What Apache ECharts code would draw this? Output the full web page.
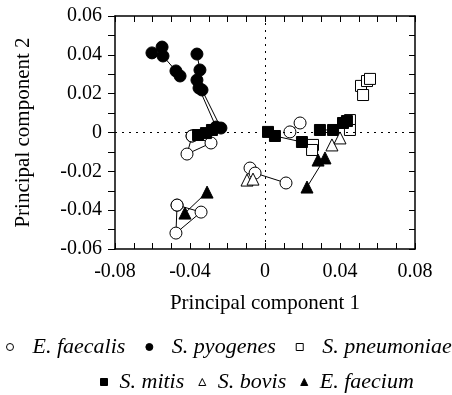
<!DOCTYPE html>
<html>
<head>
<meta charset="utf-8">
<script src="https://cdn.jsdelivr.net/npm/echarts@6/dist/echarts.min.js"></script>
<style>html,body{margin:0;padding:0;background:#fff}#c{width:452px;height:395px}</style>
</head>
<body>
<div id="c"></div>
<script>
// Species names
const speciesRow1 = ['E. faecalis', 'S. pyogenes', 'S. pneumoniae'];
const speciesRow2 = ['S. mitis', 'S. bovis', 'E. faecium'];

// Data: groups of connected points [PC1, PC2]
const eFaecalis = [
  [[-0.0389,-0.0018],[-0.0288,-0.0054],[-0.0416,-0.0111],[-0.0389,-0.0018]],
  [[-0.0469,-0.0374],[-0.0475,-0.0518],[-0.0341,-0.0410],[-0.0469,-0.0374]],
  [[-0.0080,-0.0183],[-0.0053,-0.0209],[0.0112,-0.0260]],
  [[0.0133,0.0003],[0.0187,0.0049]]
];
const sPyogenes = [
  [[-0.0603,0.0410],[-0.0549,0.0440],[-0.0544,0.0394],[-0.0475,0.0317],[-0.0453,0.0291]],
  [[-0.0363,0.0404],[-0.0347,0.0322],[-0.0363,0.0270],[-0.0352,0.0229],[-0.0261,0.0028],[-0.0235,0.0023],[-0.0336,0.0219]]
];
const sPneumoniae = [
  [[0.0512,0.0240],[0.0523,0.0193],[0.0544,0.0265],[0.0560,0.0276]],
  [[0.0453,0.0064],[0.0453,0.0013]],
  [[0.0256,-0.0064],[0.0251,-0.0090]]
];
const sMitis = [
  [[-0.0357,-0.0013],[-0.0315,-0.0003],[-0.0283,0.0013]],
  [[0.0016,0.0003],[0.0053,-0.0018],[0.0197,-0.0049]],
  [[0.0293,0.0013],[0.0363,0.0013],[0.0416,0.0049],[0.0437,0.0059]]
];
const sBovis = [
  [[-0.0096,-0.0245],[-0.0064,-0.0240]],
  [[0.0357,-0.0064],[0.0400,-0.0028]]
];
const eFaecium = [
  [[-0.0427,-0.0415],[-0.0309,-0.0307]],
  [[0.0283,-0.0142],[0.0320,-0.0131],[0.0224,-0.0281]]
];

const FONT = 'Liberation Serif';
const speciesDefs = [
  {name:'E. faecalis', groups:eFaecalis, symbol:'circle', fill:'#fff', size:12},
  {name:'S. pyogenes', groups:sPyogenes, symbol:'circle', fill:'#000', size:12},
  {name:'S. pneumoniae', groups:sPneumoniae, symbol:'rect', fill:'#fff', size:11},
  {name:'S. mitis', groups:sMitis, symbol:'rect', fill:'#000', size:11},
  {name:'S. bovis', groups:sBovis, symbol:'triangle', fill:'#fff', size:12},
  {name:'E. faecium', groups:eFaecium, symbol:'triangle', fill:'#000', size:12}
];

const series = [];
// connecting lines
speciesDefs.forEach(s => {
  s.groups.forEach(g => {
    series.push({
      type:'line', data:g, symbol:'none', silent:true, z:1,
      lineStyle:{color:'#000', width:1}, animation:false
    });
  });
});
// reference dotted lines at zero
series.push({
  type:'line', data:[], silent:true, animation:false,
  markLine:{silent:true, symbol:'none', label:{show:false},
    lineStyle:{color:'#000', type:[2,5], width:1},
    data:[{xAxis:0},{yAxis:0}]}
});
// markers
speciesDefs.forEach(s => {
  series.push({
    type:'scatter', name:s.name, symbol:s.symbol, symbolSize:s.size, z:3,
    data:[].concat(...s.groups), animation:false,
    itemStyle:{color:s.fill, borderColor:'#000', borderWidth:1, opacity:1}
  });
});

function legendData(names){
  return names.map(n => {
    const d = speciesDefs.find(s => s.name === n);
    return {name:n, icon:d.symbol, itemStyle:{color:d.fill, borderColor:'#000', borderWidth:1}};
  });
}
function legendRow(names, top, left, gap, pad){
  return {
    top:top, left:left, data:legendData(names),
    itemWidth:7, itemHeight:7, itemGap:gap, selectedMode:false, padding:0,
    textStyle:{fontFamily:FONT, fontStyle:'italic', fontSize:22, color:'#000', padding:[0,0,0,pad]}
  };
}

const fmt = v => (Math.abs(v) < 1e-9 ? '0' : (+v.toFixed(2)).toString());

const chart = echarts.init(document.getElementById('c'), null, {renderer:'canvas'});
chart.setOption({
  animation:false,
  backgroundColor:'#fff',
  grid:{left:115, right:37, top:16, bottom:146},
  legend:[
    legendRow(speciesRow1, 336, 6, 20, 14),
    legendRow(speciesRow2, 371, 100, 14, 7)
  ],
  xAxis:[{
    type:'value', min:-0.08, max:0.08, interval:0.04,
    name:'Principal component 1', nameLocation:'middle', nameGap:44,
    nameTextStyle:{fontFamily:FONT, fontSize:21, color:'#000'},
    axisLine:{show:true, onZero:false, lineStyle:{color:'#000', width:1.5}},
    axisTick:{show:true, inside:true, length:6, lineStyle:{color:'#000'}},
    minorTick:{show:true, splitNumber:4, length:6, lineStyle:{color:'#000'}},
    axisLabel:{fontFamily:FONT, fontSize:20, color:'#000', margin:13, formatter:fmt},
    splitLine:{show:false}
  },{
    type:'value', position:'top', min:-0.08, max:0.08, interval:0.04,
    axisLine:{show:true, onZero:false, lineStyle:{color:'#000', width:1.5}},
    axisTick:{show:true, inside:true, length:6, lineStyle:{color:'#000'}},
    minorTick:{show:true, splitNumber:4, length:6, lineStyle:{color:'#000'}},
    axisLabel:{show:false}, splitLine:{show:false}
  }],
  yAxis:[{
    type:'value', min:-0.06, max:0.06, interval:0.02,
    name:'Principal component 2', nameLocation:'middle', nameGap:81, nameRotate:90,
    nameTextStyle:{fontFamily:FONT, fontSize:21, color:'#000'},
    axisLine:{show:true, onZero:false, lineStyle:{color:'#000', width:1.5}},
    axisTick:{show:true, inside:false, length:7, lineStyle:{color:'#000'}},
    minorTick:{show:true, splitNumber:2, length:7, lineStyle:{color:'#000'}},
    axisLabel:{fontFamily:FONT, fontSize:20, color:'#000', margin:13, formatter:fmt},
    splitLine:{show:false}
  },{
    type:'value', position:'right', min:-0.06, max:0.06, interval:0.02,
    axisLine:{show:true, onZero:false, lineStyle:{color:'#000', width:1.5}},
    axisTick:{show:true, inside:true, length:6, lineStyle:{color:'#000'}},
    minorTick:{show:true, splitNumber:2, length:6, lineStyle:{color:'#000'}},
    axisLabel:{show:false}, splitLine:{show:false}
  }],
  series:series
});
</script>
</body>
</html>
